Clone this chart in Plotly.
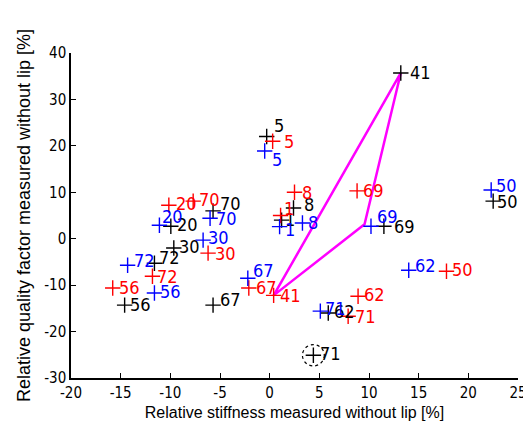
import plotly.graph_objects as go

# Black series
blk_lbl = ["41", "5", "8", "1", "70", "20", "30", "72", "56", "67", "62", "71", "69", "50"]
blk_x = [13.2, -0.3, 2.4, 1.2, -5.7, -9.95, -9.65, -11.6, -14.6, -5.7, 5.9, 4.4, 11.5, 22.5]
blk_y = [35.7, 22.0, 6.6, 4.0, 6.0, 2.7, -2.0, -5.3, -14.3, -14.3, -16.0, -25.1, 2.7, 8.1]

# Red series
red_lbl = ["5", "8", "1", "20", "70", "30", "72", "56", "67", "41", "71", "62", "69", "50"]
red_x = [0.3, 2.5, 1.1, -10.15, -7.7, -6.2, -11.8, -15.8, -2.1, 0.4, 7.9, 8.9, 8.8, 17.8]
red_y = [21.0, 10.0, 5.0, 7.2, 8.1, -3.1, -8.1, -10.6, -10.6, -12.2, -16.7, -12.4, 10.3, -7.0]

# Blue series
blu_lbl = ["5", "8", "1", "20", "70", "30", "72", "56", "67", "71", "62", "69", "50"]
blu_x = [-0.5, 3.3, 1.0, -11.1, -6.0, -6.7, -14.3, -11.6, -2.2, 5.1, 14.0, 10.2, 22.3]
blu_y = [18.9, 3.4, 2.6, 2.9, 4.4, -0.3, -5.7, -11.7, -8.5, -15.6, -6.8, 2.7, 10.5]

# Magenta triangle vertices
tri_x = [13.2, 9.55, 0.4, 13.2]
tri_y = [35.7, 3.1, -12.2, 35.7]

# Dotted circle around black 71
circ_cx, circ_cy = 4.4, -25.1
circ_rx, circ_ry = 1.1, 2.3

x_ticks = [-20, -15, -10, -5, 0, 5, 10, 15, 20, 25]
y_ticks = [-30, -20, -10, 0, 10, 20, 30, 40]

# label offsets in pixels (dx right, dy up) -- styling only
blk_off = [(7, 0), (5, 11), (8, 4), (1, 1), (5, 7), (4, 2), (3, 2), (3, 6), (3, 1), (5, 6), (4, 2), (5, 2), (8, 0), (2, 0)]
red_off = [(9, 0), (5, 0), (1, 7), (5, 2), (4, 2), (5, 0), (3, 0), (4, 0), (5, 0), (4, 0), (5, 0), (4, 2), (4, 0), (4, 2)]
blu_off = [(5, -9), (4, 0), (3, -3), (1, 9), (4, 0), (3, 3), (4, 5), (4, 2), (3, 8), (3, 3), (4, 5), (4, 10), (3, 4)]

FONT = "DejaVu Sans Condensed, Liberation Sans Narrow, Liberation Sans, Arial, sans-serif"

fig = go.Figure()

fig.add_trace(go.Scatter(x=tri_x, y=tri_y, mode="lines",
                         line=dict(color="#FF00FF", width=2.5), hoverinfo="skip",
                         cliponaxis=False))


def add_series(xs, ys, labels, offs, color):
    fig.add_trace(go.Scatter(
        x=xs, y=ys, mode="markers",
        marker=dict(symbol="cross-thin", size=11, line=dict(color=color, width=1.4), color=color),
        cliponaxis=False,
    ))
    for x, y, t, (dx, dy) in zip(xs, ys, labels, offs):
        fig.add_annotation(x=x, y=y, text=t, showarrow=False, xanchor="left", yanchor="middle",
                           xshift=dx, yshift=dy,
                           font=dict(color=color, size=18, family=FONT))


add_series(blk_x, blk_y, blk_lbl, blk_off, "black")
add_series(red_x, red_y, red_lbl, red_off, "#FF0000")
add_series(blu_x, blu_y, blu_lbl, blu_off, "#0000FF")

fig.add_shape(type="circle", xref="x", yref="y",
              x0=circ_cx - circ_rx, x1=circ_cx + circ_rx,
              y0=circ_cy - circ_ry, y1=circ_cy + circ_ry,
              line=dict(color="black", width=1.2, dash="dot"))

fig.update_layout(
    width=531, height=423,
    margin=dict(l=63, r=14, t=45, b=53),
    paper_bgcolor="white", plot_bgcolor="white",
    showlegend=False,
    font=dict(family=FONT, color="black"),
)
fig.update_xaxes(
    range=[-20, 25], tickvals=x_ticks, ticktext=[str(v) for v in x_ticks],
    showline=True, linecolor="black", linewidth=1.5, mirror=False,
    ticks="inside", ticklen=5, tickcolor="black", showgrid=False, zeroline=False,
    tickfont=dict(size=15, family=FONT),
    title=dict(text="Relative stiffness measured without lip [%]",
               font=dict(size=16, family="Liberation Sans, Arial, sans-serif"), standoff=6),
)
fig.update_yaxes(
    range=[-30, 40], tickvals=y_ticks, ticktext=[str(v) for v in y_ticks],
    showline=True, linecolor="black", linewidth=1.5, mirror=False,
    ticks="inside", ticklen=5, tickcolor="black", showgrid=False, zeroline=False,
    tickfont=dict(size=15, family=FONT),
    title=dict(text="Relative quality factor measured without lip [%]",
               font=dict(size=18, family="Liberation Sans, Arial, sans-serif"), standoff=9),
)

fig.write_html("out.html")
